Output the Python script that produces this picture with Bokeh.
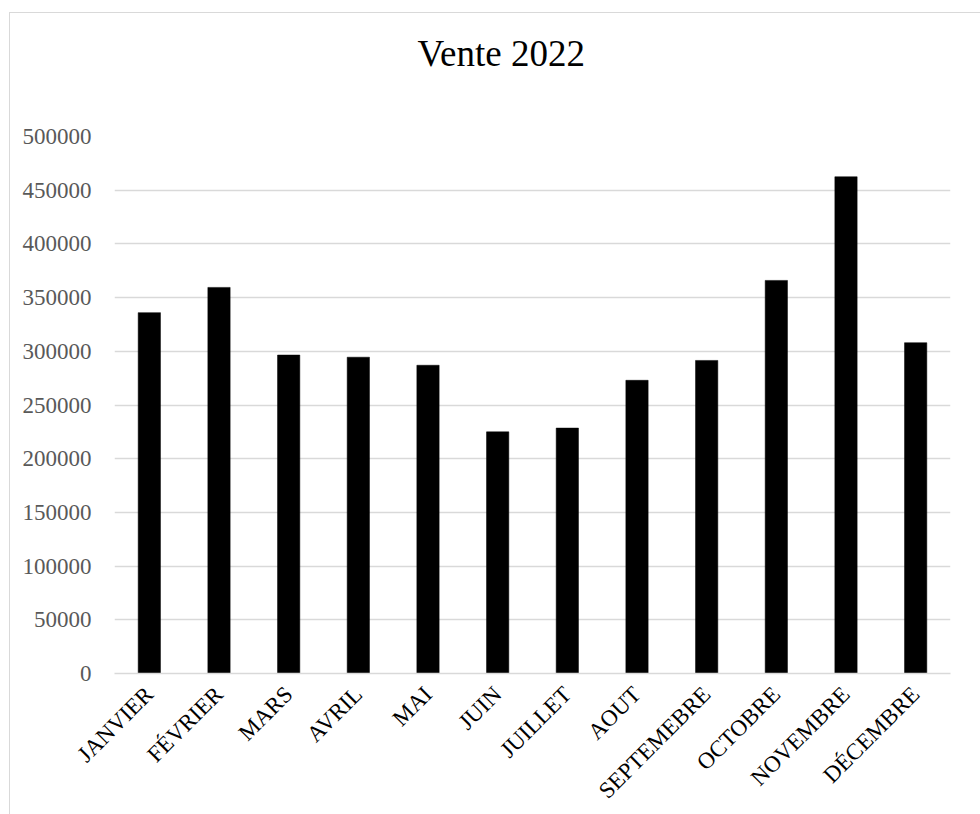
from bokeh.plotting import figure
from bokeh.models import Range1d, FixedTicker, ColumnDataSource, Title
from bokeh.embed import file_html
from bokeh.resources import INLINE
import math

title_text = "Vente 2022"
months = ["JANVIER", "FÉVRIER", "MARS", "AVRIL", "MAI", "JUIN", "JUILLET",
          "AOUT", "SEPTEMEBRE", "OCTOBRE", "NOVEMBRE", "DÉCEMBRE"]
sales = [336000, 359500, 296500, 294500, 287000, 225000, 228500,
         273000, 291500, 366000, 462500, 308000]
y_ticks = [0, 50000, 100000, 150000, 200000, 250000, 300000, 350000, 400000, 450000, 500000]

SERIF = "Liberation Serif"

p = figure(x_range=months, y_range=Range1d(0, 500000),
           width=971, height=802, output_backend="svg", toolbar_location=None,
           min_border_left=104, min_border_right=31, min_border_top=123, min_border_bottom=142)
p.margin = (12, 0, 0, 9)
p.styles = {"border-left": "1.5px solid #d9d9d9", "border-top": "1.5px solid #d9d9d9"}

p.title.text = ""
p.title.visible = False

# spacer panel between the frame and the chart title
spacer = Title(text="\u200b", text_font_size="1px", standoff=54)
p.add_layout(spacer, "above")

main_title = Title(text=title_text, align="left", offset=303, standoff=12,
                   text_font=SERIF, text_font_size="37px", text_font_style="normal",
                   text_color="#000000")
p.add_layout(main_title, "above")

src = ColumnDataSource(dict(month=months, sales=sales))
p.vbar(x="month", top="sales", width=0.32, source=src, fill_color="#000000", line_color="#000000", line_width=0.5)

p.outline_line_color = None
p.background_fill_color = "#ffffff"
p.border_fill_color = "#ffffff"

p.xgrid.grid_line_color = None
p.ygrid.grid_line_color = "#d9d9d9"
p.ygrid.grid_line_width = 1.5
p.yaxis.ticker = FixedTicker(ticks=y_ticks)
p.yaxis.formatter.use_scientific = False

p.yaxis.axis_line_color = None
p.yaxis.major_tick_line_color = None
p.yaxis.minor_tick_line_color = None
p.yaxis.major_tick_out = 0
p.yaxis.major_label_standoff = 23
p.yaxis.major_label_text_font = SERIF
p.yaxis.major_label_text_font_size = "23px"
p.yaxis.major_label_text_color = "#595959"

p.xaxis.axis_line_color = "#d9d9d9"
p.xaxis.axis_line_width = 1.5
p.xaxis.major_tick_line_color = None
p.xaxis.minor_tick_line_color = None
p.xaxis.major_tick_out = 0
p.xaxis.major_label_orientation = math.pi / 4
p.xaxis.major_label_standoff = 17
p.xaxis.major_label_text_font = SERIF
p.xaxis.major_label_text_font_size = "23px"
p.xaxis.major_label_text_color = "#000000"

open("out.html", "w").write(file_html(p, INLINE))
